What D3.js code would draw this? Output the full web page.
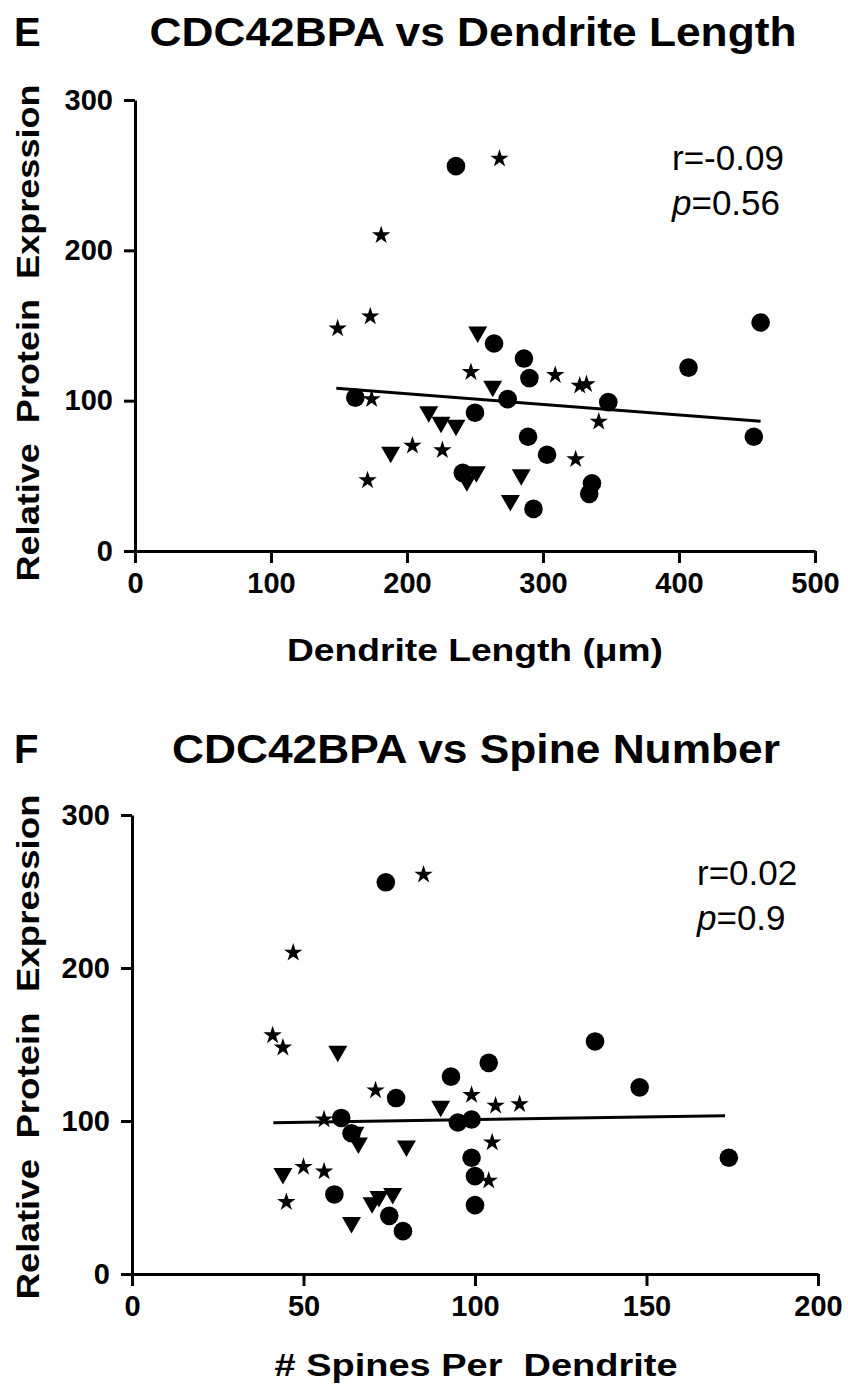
<!DOCTYPE html>
<html><head><meta charset="utf-8">
<script src="https://cdn.jsdelivr.net/npm/d3@7"></script>
<style>
body{margin:0;background:#fff}
svg{display:block}
text{font-family:"Liberation Sans",Arial,Helvetica,sans-serif;fill:#000}
</style>
</head><body>
<svg id="c" width="848" height="1389"></svg>
<script>
// ---------- Panel E: CDC42BPA vs Dendrite Length ----------
const lenCircleX = [236,162,250,241,264,286,290,274,348,407,460,455,289,303,336,334,293];
const lenCircleY = [256,102,92,52,138,128,115,101,99,122,152,76,76,64,45,38,28];
const lenStarX = [268,181,173,149,174,247,204,226,171,309,327,332,341,324];
const lenStarY = [261,210,156,148,101,119,70,67,47,117,110,111,86,61];
const lenTriX = [252,263,216,225,236,188,244,251,284,276];
const lenTriY = [144,108,91,84,82,64,45,51,49,32];
const lenFitX = [148,460];
const lenFitY = [108.2,86.3];
const lenTicksX = [0,100,200,300,400,500];
const lenStats = ["r=-0.09","0.56"];

// ---------- Panel F: CDC42BPA vs Spine Number ----------
const spnCircleX = [74,135,104,93,148,77,61,99,95,64,99,174,100,59,100,75,79];
const spnCircleY = [256,152,138,129,122,115,102,101,99,92,76,76,64,52,45,38,28];
const spnStarX = [85,47,41,44,71,56,99,106,113,105,50,56,45,104];
const spnStarY = [261,210,156,148,120,101,117,110,111,86,70,67,47,61];
const spnTriX = [60,90,65,66,80,44,70,72,76,64];
const spnTriY = [144,108,91,84,82,64,45,49,51,32];
const spnFitX = [41.2,172.9];
const spnFitY = [98.9,103.5];
const spnTicksX = [0,50,100,150,200];
const spnStats = ["r=0.02","0.9"];

const ticksY = [0,100,200,300];

const svg = d3.select("#c");

const triDown = {draw(ctx){ ctx.moveTo(-9.5,-8); ctx.lineTo(9.5,-8); ctx.lineTo(0,8.5); ctx.closePath(); }};

function panel(o){
  const g = svg.append("g");
  const x = d3.scaleLinear().domain([0,o.xmax]).range([o.x0,o.x1]);
  const y = d3.scaleLinear().domain([0,300]).range([o.y0,o.y1]);

  g.append("text").attr("x",14).attr("y",o.titleY).attr("font-size",40).attr("font-weight","bold").text(o.letter);
  g.append("text").attr("x",o.titleX).attr("y",o.titleY).attr("font-size",40).attr("font-weight","bold")
    .attr("text-anchor","middle").attr("textLength",o.titleLen).attr("lengthAdjust","spacingAndGlyphs").text(o.title);

  const ya = g.append("g").attr("transform",`translate(${o.x0},0)`)
    .call(d3.axisLeft(y).tickValues(ticksY).tickSize(11).tickSizeOuter(0).tickPadding(11));
  const xa = g.append("g").attr("transform",`translate(0,${o.y0})`)
    .call(d3.axisBottom(x).tickValues(o.ticksX).tickSize(12).tickSizeOuter(0).tickPadding(9));
  [ya,xa].forEach(a=>{
    a.select(".domain").attr("stroke","#000").attr("stroke-width",3);
    a.selectAll(".tick line").attr("stroke","#000").attr("stroke-width",3);
    a.selectAll(".tick text").attr("font-size",29).attr("font-weight","bold")
      .attr("font-family",'"Liberation Sans",Arial,sans-serif').attr("fill","#000");
  });

  g.append("text").attr("transform",`translate(39,${o.ylabY}) rotate(-90)`)
    .attr("font-size",32).attr("font-weight","bold").attr("text-anchor","middle")
    .attr("textLength",o.ylabLen).attr("lengthAdjust","spacingAndGlyphs")
    .style("white-space","pre").text("Relative  Protein  Expression");
  g.append("text").attr("x",o.xlabX).attr("y",o.xlabBase)
    .attr("font-size",32).attr("font-weight","bold").attr("text-anchor","middle")
    .attr("textLength",o.xlabLen).attr("lengthAdjust","spacingAndGlyphs")
    .style("white-space","pre").text(o.xlab);

  const line = d3.line().x(d=>x(d[0])).y(d=>y(d[1]));
  g.append("path").datum(d3.zip(o.fitX,o.fitY)).attr("d",line)
    .attr("fill","none").attr("stroke","#000").attr("stroke-width",3);

  const star = d3.symbol().type(d3.symbolStar).size(105);
  const tri = d3.symbol().type(triDown);
  g.append("g").selectAll("path").data(d3.zip(o.sX,o.sY)).join("path")
    .attr("d",star).attr("transform",d=>`translate(${x(d[0])},${y(d[1])})`).attr("fill","#000");
  g.append("g").selectAll("path").data(d3.zip(o.tX,o.tY)).join("path")
    .attr("d",tri).attr("transform",d=>`translate(${x(d[0])},${y(d[1])})`).attr("fill","#000");
  g.append("g").selectAll("circle").data(d3.zip(o.cX,o.cY)).join("circle")
    .attr("cx",d=>x(d[0])).attr("cy",d=>y(d[1])).attr("r",9.3).attr("fill","#000");

  g.append("text").attr("x",o.statX).attr("y",o.statY).attr("font-size",35).text(o.stats[0]);
  const t2 = g.append("text").attr("x",o.statX).attr("y",o.statY+45).attr("font-size",35);
  t2.append("tspan").attr("font-style","italic").text("p");
  t2.append("tspan").text("="+o.stats[1]);
}

panel({letter:"E",title:"CDC42BPA vs Dendrite Length",titleX:473,titleY:46,titleLen:647,
  xmax:500,x0:135,x1:815,y0:551,y1:100,ticksX:lenTicksX,
  ylabY:333,ylabLen:497,xlab:"Dendrite Length (\u03BCm)",xlabX:475,xlabBase:661,xlabLen:376,
  cX:lenCircleX,cY:lenCircleY,sX:lenStarX,sY:lenStarY,tX:lenTriX,tY:lenTriY,fitX:lenFitX,fitY:lenFitY,
  stats:lenStats,statX:672,statY:170});

panel({letter:"F",title:"CDC42BPA vs Spine Number",titleX:476,titleY:763,titleLen:608,
  xmax:200,x0:132,x1:818,y0:1274,y1:815,ticksX:spnTicksX,
  ylabY:1047,ylabLen:505,xlab:"# Spines Per  Dendrite",xlabX:476,xlabBase:1376,xlabLen:403,
  cX:spnCircleX,cY:spnCircleY,sX:spnStarX,sY:spnStarY,tX:spnTriX,tY:spnTriY,fitX:spnFitX,fitY:spnFitY,
  stats:spnStats,statX:697,statY:885});
</script>
</body></html>
